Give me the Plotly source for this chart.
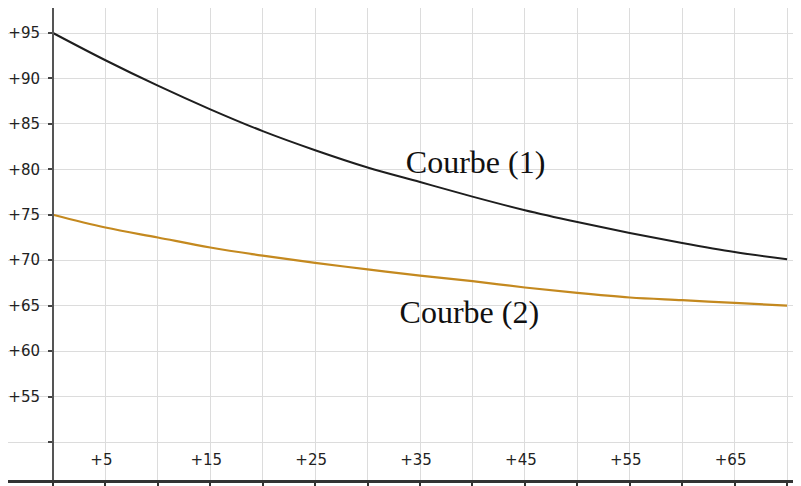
import plotly.graph_objects as go

# Data
x_vals = [0, 5, 10, 15, 20, 25, 30, 35, 40, 45, 50, 55, 60, 65, 70]
courbe1 = [95.0, 92.0, 89.2, 86.6, 84.2, 82.1, 80.2, 78.6, 77.0, 75.5, 74.2, 73.0, 71.9, 70.9, 70.1]
courbe2 = [75.0, 73.6, 72.5, 71.4, 70.5, 69.7, 69.0, 68.3, 67.7, 67.0, 66.4, 65.9, 65.6, 65.3, 65.0]

x_ticks = [0, 5, 10, 15, 20, 25, 30, 35, 40, 45, 50, 55, 60, 65, 70]
x_ticktext = ["", "+5", "", "+15", "", "+25", "", "+35", "", "+45", "", "+55", "", "+65", ""]
y_ticks = [50, 55, 60, 65, 70, 75, 80, 85, 90, 95]
y_ticktext = ["", "+55", "+60", "+65", "+70", "+75", "+80", "+85", "+90", "+95"]

labels = ["Courbe (1)", "Courbe (2)"]
label_x = [40.3, 39.7]
label_y = [80.5, 64.0]

fig = go.Figure()
fig.add_trace(go.Scatter(x=x_vals, y=courbe1, mode="lines", line=dict(color="#1e1e1e", width=2, shape="spline"),
                         hoverinfo="skip", showlegend=False))
fig.add_trace(go.Scatter(x=x_vals, y=courbe2, mode="lines", line=dict(color="#c4891f", width=2.2, shape="spline"),
                         hoverinfo="skip", showlegend=False))
fig.add_trace(go.Scatter(x=label_x, y=label_y, mode="text", text=labels,
                         textfont=dict(family="Liberation Serif", size=32, color="#111111"),
                         hoverinfo="skip", showlegend=False))

# page body has an 8px margin, figure sized to fit the remaining window
W, H = 793, 478
ml, mr, mt, mb = 0, 0, 0, 6
pw = W - ml - mr

fig.update_layout(
    width=W, height=H,
    margin=dict(l=ml, r=mr, t=mt, b=mb, autoexpand=False),
    paper_bgcolor="white", plot_bgcolor="white",
    xaxis=dict(
        range=[-4.291, 71.33],
        tickvals=x_ticks, ticktext=x_ticktext,
        showgrid=True, gridcolor="#dcdcdc", gridwidth=1,
        zeroline=False, automargin=False,
        showline=True, linecolor="#333333", linewidth=2.5,
        ticks="outside", ticklen=4, tickwidth=2, tickcolor="#333333",
        ticklabelposition="inside", ticklabelstandoff=12, ticklabelshift=-4,
        tickfont=dict(family="DejaVu Sans", size=15, color="#222222"),
    ),
    yaxis=dict(
        range=[45.82, 97.75],
        tickvals=y_ticks, ticktext=y_ticktext,
        showgrid=True, gridcolor="#dcdcdc", gridwidth=1,
        zeroline=False, automargin=False,
        anchor="free", position=45 / pw,
        showline=True, linecolor="#555555", linewidth=2,
        ticks="outside", ticklen=4, tickwidth=2, tickcolor="#444444",
        ticklabelstandoff=5,
        tickfont=dict(family="DejaVu Sans", size=15, color="#222222"),
    ),
)

fig.write_html("out.html")
